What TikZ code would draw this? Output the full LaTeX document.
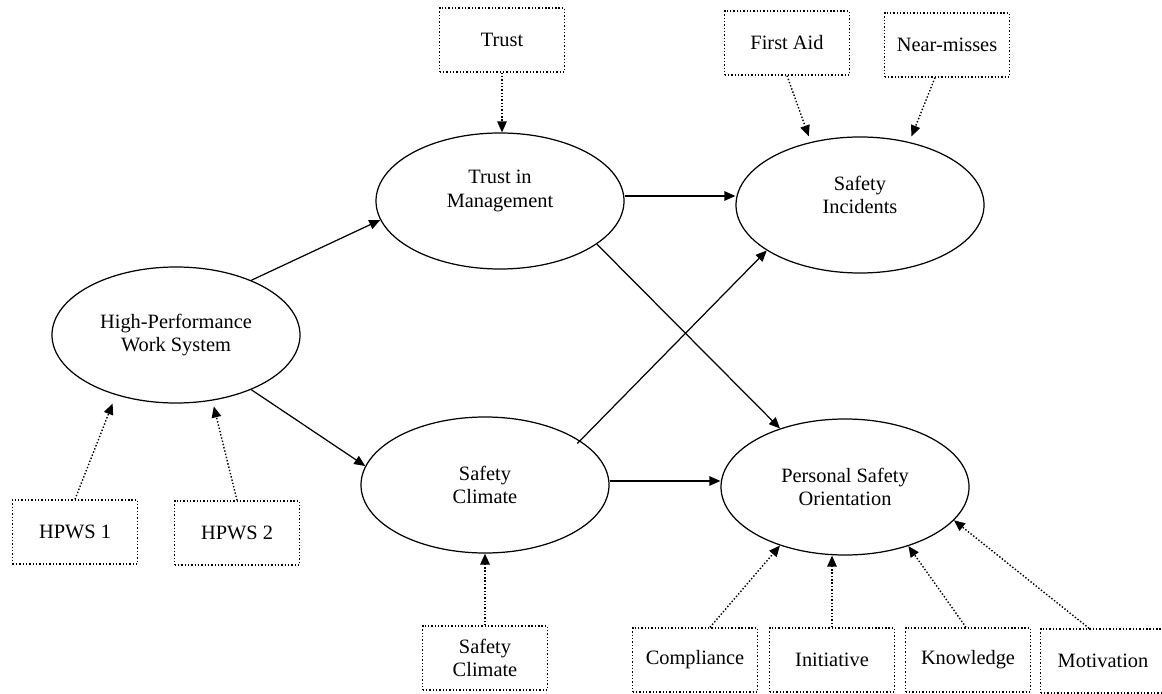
\documentclass[tikz,border=0pt]{standalone}
\usepackage{fontspec}
\setmainfont{Liberation Serif}
\usetikzlibrary{arrows.meta,shapes.geometric}
\begin{document}
\begin{tikzpicture}[x=0.2mm,y=-0.2mm,
  txt/.style={font=\fontsize{11.6}{13.2}\selectfont, align=center},
  lat/.style={ellipse, draw, line width=0.7pt, minimum width=4.96cm, minimum height=2.72cm, inner sep=0pt, txt},
  obs/.style={rectangle, draw, line width=0.8pt, dash pattern=on 0.8pt off 1.1pt, minimum width=2.5cm, minimum height=1.28cm, inner sep=0pt, txt},
  arrtip/.style={-{Triangle[length=0.22cm,width=0.19cm]}},
  solidarr/.style={arrtip, line width=0.7pt},
  dotarr/.style={arrtip, line width=0.8pt, dash pattern=on 0.8pt off 1.1pt},
]
\useasboundingbox (0,0) rectangle (1162,694);

% latent constructs
\node[lat] (hpws) at (176,335) {High-Performance\\Work System};
\node[lat, label={[txt,yshift=0.2cm]center:Trust in\\Management}] (tim) at (500,201) {};
\node[lat, label={[txt,yshift=0.2cm]center:Safety\\Incidents}] (si) at (860,205) {};
\node[lat] (sc) at (485,485) {Safety\\Climate};
\node[lat] (pso) at (845,487) {Personal Safety\\Orientation};

% indicators
\node[obs] (trust) at (502,40) {Trust};
\node[obs] (fa) at (787,43) {First Aid};
\node[obs] (nm) at (947,45) {Near-misses};
\node[obs] (h1) at (75,532) {HPWS 1};
\node[obs] (h2) at (237,533) {HPWS 2};
\node[obs] (scb) at (485,658) {Safety\\Climate};
\node[obs] (comp) at (695,660) {Compliance};
\node[obs] (ini) at (832,660) {Initiative};
\node[obs] (know) at (968,660) {Knowledge};
\node[obs] (mot) at (1103,661) {Motivation};

% structural paths
\draw[solidarr] (hpws.36) -- (tim.189);
\draw[solidarr] (hpws.324) -- (sc.171);
\draw[solidarr] ([yshift=0.1cm]tim.east) -- ([yshift=0.1cm]tim.east -| si.west);
\draw[solidarr] (tim.336) -- (pso.138);
\draw[solidarr, shorten <=-0.08cm] (sc.25) -- (si.206);
\draw[solidarr] ([yshift=0.08cm]sc.east) -- ([yshift=0.08cm]sc.east -| pso.west);

% indicator paths
\draw[dotarr] (trust.south) -- (trust.south |- tim.north);
\draw[dotarr, shorten >=0.12cm] (fa.south) -- (si.128);
\draw[dotarr, shorten >=0.12cm] ([xshift=-0.24cm]nm.south) -- (si.52);
\draw[dotarr, shorten >=0.18cm] (h1.north) -- (hpws.225);
\draw[dotarr, shorten >=0.12cm] (h2.north) -- (hpws.299);
\draw[dotarr] (scb.north) -- (sc.south);
\draw[dotarr] ([xshift=0.3cm]comp.north) -- (pso.222);
\draw[dotarr] (ini.north) -- (ini.north |- pso.south);
\draw[dotarr] ([xshift=-0.04cm]know.north) -- (pso.317);
\draw[dotarr] ([xshift=-0.28cm]mot.north) -- (pso.343);
\end{tikzpicture}
\end{document}
